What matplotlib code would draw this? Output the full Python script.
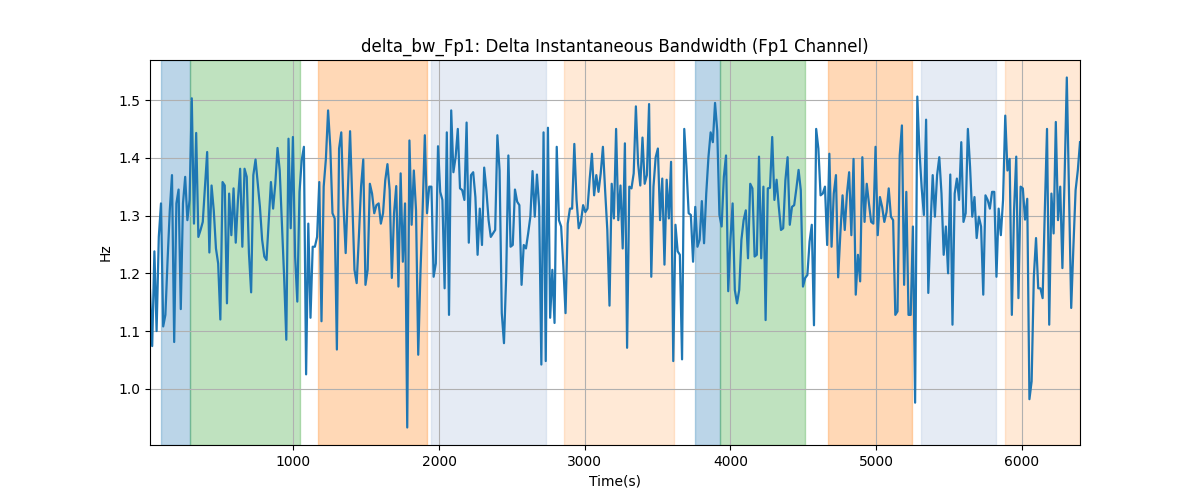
import numpy as np
import matplotlib
matplotlib.use("Agg")
import matplotlib.pyplot as plt

# delta bandwidth values, one every ~16 s
bw = [
    1.171, 1.074, 1.238, 1.100, 1.263, 1.321, 1.108, 1.128, 1.223, 1.309,
    1.370, 1.081, 1.321, 1.345, 1.138, 1.321, 1.367, 1.292, 1.327, 1.503,
    1.286, 1.443, 1.263, 1.275, 1.289, 1.350, 1.410, 1.236, 1.352, 1.309,
    1.243, 1.217, 1.120, 1.358, 1.352, 1.148, 1.338, 1.266, 1.347, 1.253,
    1.327, 1.381, 1.246, 1.381, 1.367, 1.235, 1.167, 1.370, 1.397, 1.355,
    1.315, 1.258, 1.229,
    1.223, 1.292, 1.358, 1.312, 1.355, 1.417, 1.378, 1.284, 1.194, 1.085,
    1.433, 1.278, 1.436, 1.229, 1.151, 1.341, 1.396, 1.419, 1.025, 1.286,
    1.123, 1.246, 1.246, 1.263, 1.358, 1.117, 1.350, 1.398, 1.482, 1.419,
    1.304, 1.295, 1.068, 1.416, 1.444, 1.318, 1.235, 1.344, 1.446, 1.324,
    1.206, 1.183, 1.263, 1.350, 1.397, 1.180, 1.206, 1.355, 1.338, 1.304,
    1.318, 1.321, 1.286,
    1.304, 1.361, 1.389, 1.344, 1.192, 1.304, 1.351, 1.177, 1.373, 1.220,
    1.321, 0.933, 1.430, 1.284, 1.378, 1.309, 1.059, 1.200, 1.309, 1.439,
    1.304, 1.350, 1.350, 1.194, 1.217, 1.420, 1.341, 1.327, 1.174, 1.444,
    1.128, 1.482, 1.375, 1.401, 1.450, 1.347, 1.344, 1.327, 1.461, 1.253,
    1.370, 1.375, 1.332, 1.232, 1.312, 1.249, 1.383, 1.344, 1.292, 1.263,
    1.269, 1.275,
    1.439, 1.378, 1.131, 1.079, 1.194, 1.404, 1.246, 1.249, 1.345, 1.324,
    1.318, 1.180, 1.249, 1.243, 1.269, 1.298, 1.377, 1.298, 1.371, 1.315,
    1.042, 1.444, 1.048, 1.452, 1.123, 1.206, 1.114, 1.419, 1.292, 1.281,
    1.212, 1.131, 1.286, 1.312, 1.312, 1.424, 1.327, 1.278, 1.289, 1.318,
    1.306, 1.312, 1.364, 1.407, 1.335, 1.370, 1.341, 1.373, 1.419, 1.344,
    1.275, 1.144, 1.355,
    1.295, 1.450, 1.292, 1.352, 1.243, 1.425, 1.071, 1.350, 1.347, 1.373,
    1.489, 1.390, 1.352, 1.435, 1.355, 1.370, 1.493, 1.194, 1.350, 1.401,
    1.416, 1.292, 1.364, 1.215, 1.362, 1.295, 1.393, 1.048, 1.284, 1.238,
    1.232, 1.051, 1.450, 1.384, 1.304, 1.301, 1.220, 1.315, 1.246, 1.258,
    1.325, 1.252, 1.338, 1.401, 1.444, 1.427, 1.495, 1.447, 1.301, 1.281,
    1.367, 1.404,
    1.169, 1.258, 1.321, 1.171, 1.148, 1.171, 1.258, 1.292, 1.309, 1.226,
    1.355, 1.347, 1.229, 1.232, 1.402, 1.226, 1.350, 1.119, 1.347, 1.348,
    1.436, 1.327, 1.362, 1.315, 1.275, 1.278, 1.361, 1.401, 1.284, 1.315,
    1.318, 1.347, 1.379, 1.344, 1.177, 1.192, 1.197, 1.255, 1.284, 1.110,
    1.450, 1.416, 1.335, 1.338, 1.350, 1.249, 1.407, 1.246, 1.338, 1.370,
    1.193, 1.269, 1.335,
    1.275, 1.338, 1.375, 1.266, 1.398, 1.163, 1.232, 1.186, 1.401, 1.289,
    1.355, 1.321, 1.289, 1.286, 1.419, 1.266, 1.332, 1.315, 1.289, 1.306,
    1.347, 1.298, 1.292, 1.128, 1.134, 1.404, 1.456, 1.180, 1.341, 1.128,
    1.128, 1.281, 0.976, 1.506, 1.410, 1.347, 1.301, 1.466, 1.166, 1.281,
    1.370, 1.298, 1.370, 1.401, 1.338, 1.232, 1.281, 1.200, 1.371, 1.111,
    1.338, 1.364, 1.327, 1.427,
    1.289, 1.304, 1.450, 1.384, 1.298, 1.332, 1.261, 1.298, 1.281, 1.163,
    1.335, 1.327, 1.312, 1.341, 1.341, 1.194, 1.312, 1.266, 1.327, 1.473,
    1.378, 1.398, 1.128, 1.309, 1.402, 1.157, 1.350, 1.347, 1.293, 1.329,
    0.982, 1.013, 1.194, 1.261, 1.174, 1.174, 1.157, 1.309, 1.450, 1.111,
    1.338, 1.269, 1.462, 1.292, 1.350, 1.209, 1.367, 1.539, 1.338, 1.140,
    1.246, 1.344, 1.378, 1.427,
]
t_start, t_end = 16, 6400

# shaded segments: (start, end, colour, alpha)
span_start = [93, 288, 1171, 1947, 2860, 3760, 3927, 4673, 5311, 5888]
span_end = [288, 1046, 1918, 2735, 3613, 3927, 4513, 5248, 5824, 6400]
span_color = ["tab:blue", "tab:green", "tab:orange", "lightsteelblue", "tab:orange",
              "tab:blue", "tab:green", "tab:orange", "lightsteelblue", "tab:orange"]
span_alpha = [0.3, 0.3, 0.3, 0.33, 0.17, 0.3, 0.3, 0.3, 0.33, 0.17]

t = np.linspace(t_start, t_end, len(bw))

fig, ax = plt.subplots(figsize=(12, 5), dpi=100)
for s, e, c, a in zip(span_start, span_end, span_color, span_alpha):
    ax.axvspan(s, e, color=c, alpha=a)
ax.plot(t, bw, color="tab:blue", lw=1.6)
ax.set_xlim(t_start, t_end)
ax.grid(True)
ax.set_title("delta_bw_Fp1: Delta Instantaneous Bandwidth (Fp1 Channel)")
ax.set_xlabel("Time(s)")
ax.set_ylabel("Hz")
plt.savefig("out.png")
